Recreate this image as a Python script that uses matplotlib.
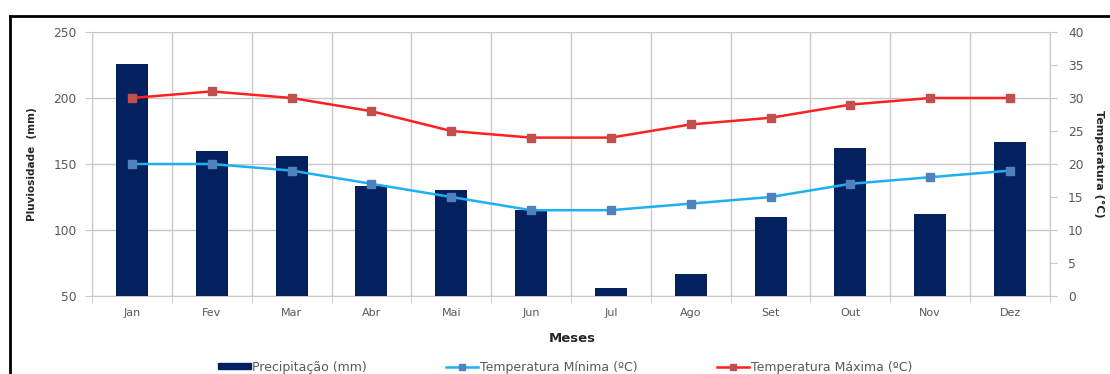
import matplotlib
matplotlib.use("Agg")
import matplotlib.pyplot as plt
from matplotlib.patches import Rectangle
from matplotlib.lines import Line2D
import numpy as np

months = ["Jan", "Fev", "Mar", "Abr", "Mai", "Jun", "Jul", "Ago", "Set", "Out", "Nov", "Dez"]
precip = [226, 160, 156, 133, 130, 115, 56, 67, 110, 162, 112, 167]
tmin = [20, 20, 19, 17, 15, 13, 13, 14, 15, 17, 18, 19]
tmax = [30, 31, 30, 28, 25, 24, 24, 26, 27, 29, 30, 30]

plt.rcParams['font.family'] = ['DejaVu Sans']

W, H = 1110, 374
fig = plt.figure(figsize=(W / 100, H / 100), dpi=100)
ax = fig.add_axes([92 / W, 1 - 296 / H, (1050 - 92) / W, (296 - 32) / H])
ax2 = ax.twinx()

x = np.arange(len(months))
bar_col = "#03215E"
grid_col = "#C8C8C8"
txt_col = "#595959"
lab_col = "#262626"

ax.bar(x, np.array(precip) - 50, bottom=50, width=0.4, color=bar_col, zorder=3,
       label="Precipitação (mm)")
ax.set_ylim(50, 250)
ax.set_xlim(-0.5, 11.5)
ax.set_yticks([50, 100, 150, 200, 250])
ax.set_xticks(x)
ax.set_xticklabels(months)
ax.set_xticks(np.arange(-0.5, 12, 1), minor=True)
ax.tick_params(axis='x', which='major', length=0, pad=9, labelsize=8, colors=txt_col)
ax.tick_params(axis='x', which='minor', length=5, color=grid_col)
ax.tick_params(axis='y', length=5, color=grid_col, labelsize=8.8, labelcolor=txt_col, pad=6)
ax.grid(True, axis='y', color=grid_col, lw=1, zorder=0)
ax.grid(True, axis='x', which='minor', color=grid_col, lw=1, zorder=0)
for s in ["top", "right"]:
    ax.spines[s].set_visible(False)
ax.spines["left"].set_color(grid_col)
ax.spines["bottom"].set_color(grid_col)
ax.set_axisbelow(True)

ax2.plot(x, tmin, color="#1FB0F0", lw=1.8, marker="s", ms=5.5, mfc="#4F81BD", mec="#4F81BD",
         label="Temperatura Mínima (ºC)", zorder=4)
ax2.plot(x, tmax, color="#FF2020", lw=1.8, marker="s", ms=5.5, mfc="#C0504D", mec="#C0504D",
         label="Temperatura Máxima (ºC)", zorder=4)
ax2.set_ylim(0, 40)
ax2.set_yticks(range(0, 41, 5))
ax2.tick_params(axis='y', length=5, color=grid_col, labelsize=8.8, labelcolor=txt_col, pad=8)
for s in ["top", "left", "bottom"]:
    ax2.spines[s].set_visible(False)
ax2.spines["right"].set_color(grid_col)

ax.set_ylabel("Pluviosidade  (mm)", fontsize=7.5, fontweight="bold", color=lab_col, labelpad=12)
ax2.set_ylabel("Temperatura (°C)", fontsize=8, fontweight="bold", color=lab_col,
               rotation=270, labelpad=15)
fig.text(572 / W, 1 - 339 / H, "Meses", fontsize=9.5, fontweight="bold", color=lab_col,
         ha="center", va="center")

handles = [Rectangle((0, 0), 1, 1, color=bar_col),
           Line2D([], [], color="#1FB0F0", lw=1.8, marker="s", ms=5, mfc="#4F81BD", mec="#4F81BD"),
           Line2D([], [], color="#FF2020", lw=1.8, marker="s", ms=5, mfc="#C0504D", mec="#C0504D")]
labels = ["Precipitação (mm)", "Temperatura Mínima (ºC)", "Temperatura Máxima (ºC)"]
fig.legend(handles, labels, loc="center left", bbox_to_anchor=(218 / W, 1 - 367 / H), ncol=3,
           frameon=False, fontsize=9, columnspacing=6.3, handlelength=2.6, handletextpad=0.15,
           labelcolor=txt_col, handleheight=0.45, borderpad=0, borderaxespad=0)

# outer frame
fig.add_artist(Line2D([10 / W, 1.01], [1 - 16 / H, 1 - 16 / H], transform=fig.transFigure,
                      color="black", lw=2))
fig.add_artist(Line2D([10 / W, 10 / W], [1 - 16 / H, -0.01], transform=fig.transFigure,
                      color="black", lw=2))

fig.savefig("out.png", dpi=100)
